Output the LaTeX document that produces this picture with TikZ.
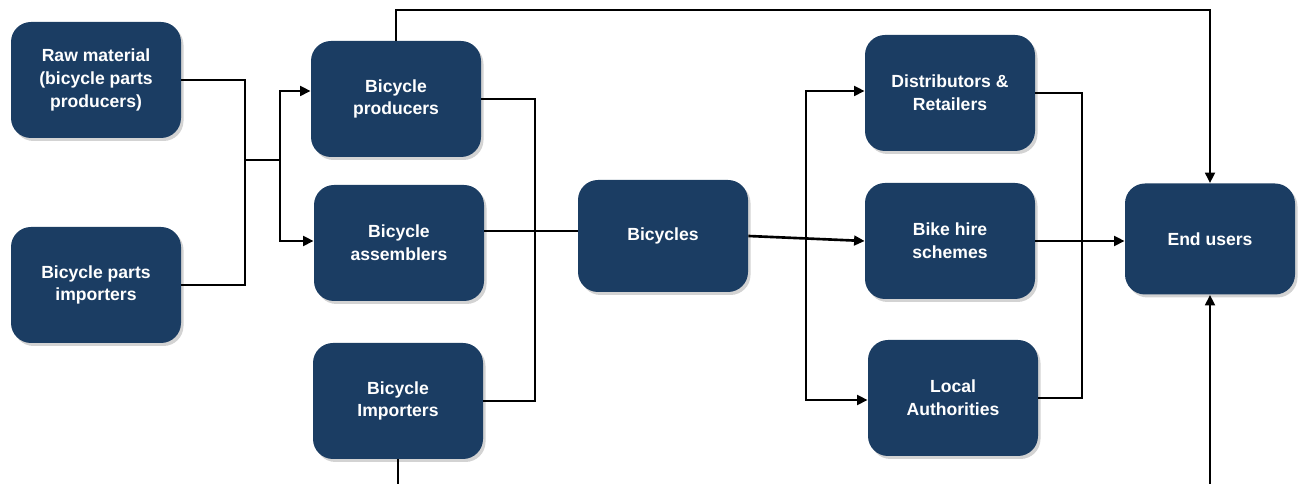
\documentclass[tikz,border=0pt]{standalone}
\usepackage{fontspec}
\setmainfont{Liberation Sans}
\usetikzlibrary{arrows.meta,shadows}
\definecolor{boxblue}{RGB}{27,61,99}
\tikzset{
	chainbox/.style={draw=none, fill=boxblue, rounded corners=0.4cm, minimum width=3.4cm, minimum height=2.32cm,
		text=white, align=center, font=\fontsize{10}{13}\selectfont\bfseries,
		drop shadow={opacity=0.35, shadow xshift=0.05cm, shadow yshift=-0.06cm}},
	link/.style={line width=1.5pt},
	arr/.style={link, -{Triangle[length=6pt,width=5.5pt]}}
}
\begin{document}
\begin{tikzpicture}
	\useasboundingbox (0,0) rectangle (25.98,9.68);
	% Suppliers
	\node[chainbox] (raw) at (1.92,8.08) {Raw material\\(bicycle parts\\producers)};
	\node[chainbox] (partsimp) at (1.92,3.98) {Bicycle parts\\importers};
	% Producers
	\node[chainbox] (prod) at (7.92,7.70) {Bicycle\\producers};
	\node[chainbox] (assem) at (7.98,4.82) {Bicycle\\assemblers};
	\node[chainbox] (imp) at (7.96,1.66) {Bicycle\\Importers};
	\node[chainbox, minimum height=2.24cm] (bikes) at (13.26,4.96) {Bicycles};
	% Sellers
	\node[chainbox] (dist) at (19.00,7.82) {Distributors \&\\Retailers};
	\node[chainbox] (hire) at (19.00,4.86) {Bike hire\\schemes};
	\node[chainbox] (local) at (19.06,1.72) {Local\\Authorities};
	\node[chainbox, minimum height=2.22cm] (end) at (24.20,4.90) {End users};
	% Junctions
	\coordinate (join1) at (4.90,6.48);
	\coordinate (split1) at (5.60,6.48);
	\coordinate (join2) at (10.70,5.06);
	\coordinate (split2) at (16.12,4.94);
	\coordinate (join3) at (21.64,4.88);
	\coordinate (top) at (24.20,9.48);
	\coordinate (botL) at (7.96,0);
	\coordinate (botR) at (24.20,0);
	% Parts to producers
	\draw[link] (raw.east) -| (join1) |- (partsimp.east);
	\draw[link] (join1) -- (split1);
	\draw[arr] (split1) |- ([yshift=0.16cm]prod.west);
	\draw[arr] (split1) |- ([yshift=0.04cm]assem.west);
	% Producers to bicycles
	\draw[link] (prod.east) -| (join2) |- (imp.east);
	\draw[link] (assem.east |- join2) -- (join2 -| bikes.west);
	% Bicycles to sellers
	\draw[arr] (bikes.east) -- (hire.west);
	\draw[arr] (split2) |- ([yshift=0.04cm]dist.west);
	\draw[arr] (split2) |- ([yshift=-0.04cm]local.west);
	% Sellers to end users
	\draw[link] (dist.east) -| (join3) |- (local.east);
	\draw[arr] (hire.east) -- (hire.east -| end.west);
	\draw[arr] (prod.north) |- (top) -- (end.north);
	\draw[link] (imp.south) -- (botL);
	\draw[arr] (botR) -- (end.south);
\end{tikzpicture}
\end{document}
